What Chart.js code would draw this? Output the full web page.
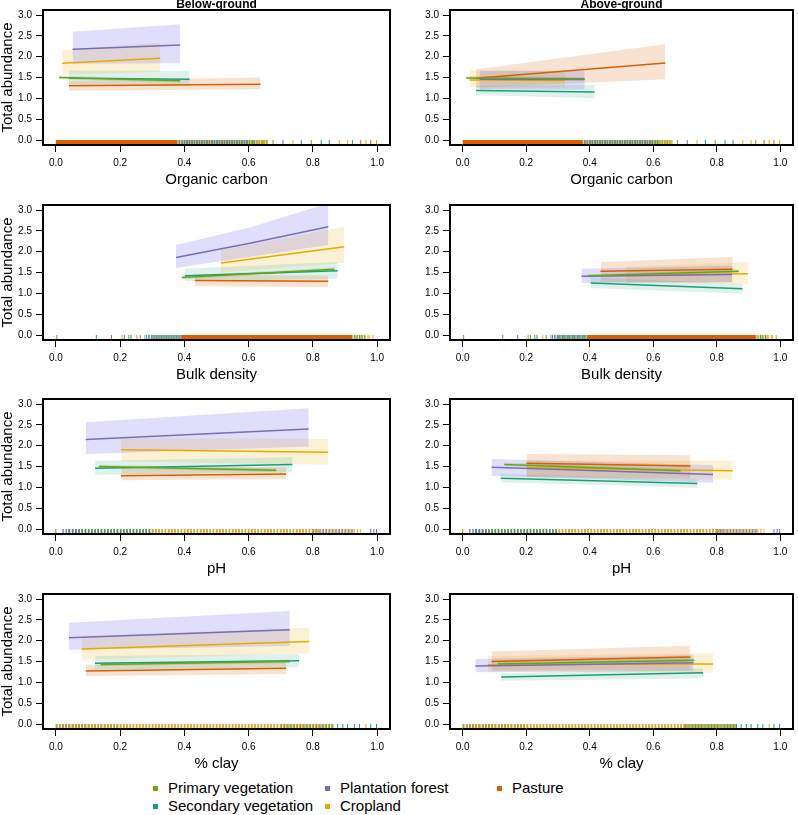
<!DOCTYPE html>
<html>
<head>
<meta charset="utf-8">
<script src="https://cdn.jsdelivr.net/npm/chart.js@4.4.1/dist/chart.umd.min.js"></script>
<style>
  body { margin: 0; background: #fff; }
  #wrap { position: relative; width: 798px; height: 815px; font-family: "Liberation Sans", Arial, Helvetica, sans-serif; }
  canvas { position: absolute; }
  .key { position: absolute; font-size: 15px; line-height: 18px; color: #000; white-space: nowrap; }
  .sw { position: absolute; width: 5px; height: 5px; }
</style>
</head>
<body>
<div id="wrap">
  <canvas id="p1" width="399" height="195" style="left:0;top:0"></canvas>
  <canvas id="p2" width="399" height="195" style="left:399px;top:0"></canvas>
  <canvas id="p3" width="399" height="195" style="left:0;top:195px"></canvas>
  <canvas id="p4" width="399" height="195" style="left:399px;top:195px"></canvas>
  <canvas id="p5" width="399" height="195" style="left:0;top:389px"></canvas>
  <canvas id="p6" width="399" height="195" style="left:399px;top:389px"></canvas>
  <canvas id="p7" width="399" height="195" style="left:0;top:584px"></canvas>
  <canvas id="p8" width="399" height="195" style="left:399px;top:584px"></canvas>
  <div id="legend"></div>
</div>
<script>
var landUses = ['Primary vegetation', 'Secondary vegetation', 'Plantation forest', 'Cropland', 'Pasture'];
var lineColors = ['#66A61E', '#1B9E77', '#7570B3', '#E6AB02', '#D95F02'];
var bandColors = ['rgba(102,166,30,0.22)', 'rgba(27,158,119,0.14)', 'rgba(100,90,230,0.2)', 'rgba(230,171,2,0.17)', 'rgba(217,95,2,0.18)'];
var rugColors = ['rgba(102,166,30,0.85)', 'rgba(27,158,119,0.85)', 'rgba(117,112,179,0.85)', 'rgba(230,171,2,0.75)', 'rgba(217,95,2,0.7)'];

var yTicks = [0, 0.5, 1, 1.5, 2, 2.5, 3];
var yTickLabels = ['0.0', '0.5', '1.0', '1.5', '2.0', '2.5', '3.0'];
var xTicks = [0, 0.2, 0.4, 0.6, 0.8, 1];
var xTickLabels = ['0.0', '0.2', '0.4', '0.6', '0.8', '1.0'];

// each land use: [x, fitted, lower, upper], same order as landUses
var belowOC = [
  [[0.010, 0.387], [1.50, 1.42], [1.46, 1.38], [1.54, 1.46]],
  [[0.041, 0.416], [1.48, 1.46], [1.31, 1.29], [1.66, 1.66]],
  [[0.052, 0.387], [2.18, 2.28], [1.83, 1.84], [2.60, 2.78]],
  [[0.020, 0.325], [1.84, 1.96], [1.56, 1.64], [2.16, 2.34]],
  [[0.041, 0.637], [1.30, 1.34], [1.18, 1.22], [1.42, 1.50]]
];
var aboveOC = [
  [[0.011, 0.384], [1.49, 1.47], [1.45, 1.43], [1.53, 1.51]],
  [[0.042, 0.415], [1.19, 1.15], [1.08, 1.00], [1.30, 1.32]],
  [[0.053, 0.384], [1.46, 1.45], [1.21, 1.21], [1.66, 1.66]],
  [[0.022, 0.322], [1.44, 1.43], [1.26, 1.26], [1.66, 1.66]],
  [[0.042, 0.638], [1.48, 1.85], [1.26, 1.46], [1.70, 2.30]]
];
var belowBD = [
  [[0.392, 0.867], [1.38, 1.58], [1.34, 1.54], [1.42, 1.62]],
  [[0.402, 0.877], [1.42, 1.54], [1.29, 1.35], [1.59, 1.75]],
  [[0.374, 0.604, 0.848], [1.86, 2.20, 2.60], [1.61, 1.88, 2.16], [2.16, 2.58, 3.16]],
  [[0.514, 0.898], [1.73, 2.12], [1.50, 1.73], [2.04, 2.60]],
  [[0.433, 0.848], [1.31, 1.29], [1.17, 1.15], [1.44, 1.43]]
];
var aboveBD = [
  [[0.394, 0.869], [1.42, 1.53], [1.38, 1.49], [1.46, 1.57]],
  [[0.403, 0.881], [1.25, 1.11], [1.13, 0.99], [1.38, 1.23]],
  [[0.374, 0.848], [1.41, 1.45], [1.25, 1.27], [1.59, 1.66]],
  [[0.514, 0.898], [1.43, 1.47], [1.26, 1.23], [1.63, 1.75]],
  [[0.434, 0.850], [1.53, 1.58], [1.28, 1.26], [1.75, 1.87]]
];
var belowPH = [
  [[0.134, 0.686], [1.50, 1.41], [1.46, 1.37], [1.54, 1.45]],
  [[0.122, 0.736], [1.46, 1.55], [1.30, 1.36], [1.64, 1.72]],
  [[0.093, 0.787], [2.15, 2.40], [1.80, 1.98], [2.56, 2.90]],
  [[0.203, 0.848], [1.90, 1.84], [1.62, 1.54], [2.18, 2.16]],
  [[0.203, 0.717], [1.28, 1.32], [1.17, 1.20], [1.46, 1.48]]
];
var abovePH = [
  [[0.131, 0.686], [1.55, 1.40], [1.51, 1.36], [1.59, 1.44]],
  [[0.120, 0.739], [1.22, 1.09], [1.12, 0.99], [1.32, 1.20]],
  [[0.091, 0.788], [1.48, 1.31], [1.28, 1.11], [1.68, 1.53]],
  [[0.201, 0.850], [1.47, 1.40], [1.25, 1.18], [1.64, 1.64]],
  [[0.201, 0.717], [1.58, 1.51], [1.26, 1.22], [1.80, 1.77]]
];
var belowClay = [
  [[0.139, 0.728], [1.43, 1.50], [1.39, 1.46], [1.47, 1.54]],
  [[0.122, 0.757], [1.46, 1.52], [1.30, 1.36], [1.63, 1.68]],
  [[0.041, 0.728], [2.07, 2.26], [1.78, 1.87], [2.43, 2.71]],
  [[0.080, 0.789], [1.80, 1.98], [1.54, 1.70], [2.11, 2.31]],
  [[0.093, 0.717], [1.27, 1.34], [1.15, 1.20], [1.42, 1.50]]
];
var aboveClay = [
  [[0.110, 0.729], [1.44, 1.53], [1.40, 1.49], [1.48, 1.57]],
  [[0.121, 0.757], [1.13, 1.23], [1.04, 1.10], [1.22, 1.34]],
  [[0.040, 0.727], [1.39, 1.47], [1.24, 1.28], [1.56, 1.65]],
  [[0.079, 0.788], [1.42, 1.44], [1.26, 1.23], [1.63, 1.70]],
  [[0.091, 0.717], [1.50, 1.61], [1.28, 1.31], [1.74, 1.88]]
];

// rug of observed x values: solid runs, dense runs [land use, from, to], single ticks [land use, x]
var ocRugSolid = [[4, 0.0, 0.378]];
var ocRugDense = [[2, 0.378, 0.60], [1, 0.378, 0.62], [3, 0.378, 0.66], [0, 0.40, 0.66], [4, 0.38, 0.66]];
var ocRugTicks = [[1, 0.614], [3, 0.645], [0, 0.676], [2, 0.707], [3, 0.738], [1, 0.764], [0, 0.795], [1, 0.826],
  [1, 0.851], [3, 0.882], [3, 0.908], [0, 0.923], [4, 0.949], [3, 0.965], [4, 0.980], [3, 0.998]];
var bdRugSolid = [[4, 0.392, 0.922]];
var bdRugDense = [[2, 0.275, 0.392], [1, 0.275, 0.392], [0, 0.30, 0.39], [3, 0.92, 0.975], [0, 0.92, 0.965], [1, 0.93, 0.96]];
var bdRugTicks = [[0, 0.003], [1, 0.126], [2, 0.173], [3, 0.206], [1, 0.213], [0, 0.227], [1, 0.234], [3, 0.252],
  [0, 0.263], [3, 0.975], [3, 0.987]];
var phRugSolid = [];
var phRugDense = [[2, 0.02, 0.08], [1, 0.04, 0.30], [3, 0.05, 0.95], [4, 0.06, 0.82], [2, 0.80, 0.93]];
var phRugTicks = [[0, 0.0], [1, 0.041], [2, 0.98], [2, 0.99], [2, 0.998]];
var clayRugSolid = [];
var clayRugDense = [[3, 0.0, 0.86], [4, 0.02, 0.86], [1, 0.0, 0.20], [2, 0.0, 0.10], [1, 0.70, 0.86]];
var clayRugTicks = [[1, 0.862], [1, 0.877], [1, 0.893], [1, 0.908], [1, 0.929], [1, 0.945], [3, 0.965], [1, 0.98], [1, 0.998]];

var FONT = '"Liberation Sans", Arial, Helvetica, sans-serif';
var RUG_Y = -0.06;
Chart.defaults.font.family = FONT;
Chart.defaults.color = '#000';

var plotBox = {
  id: 'plotBox',
  afterDatasetsDraw: function (chart) {
    var a = chart.chartArea, ctx = chart.ctx;
    ctx.save();
    ctx.strokeStyle = '#000';
    ctx.lineWidth = 2;
    ctx.strokeRect(a.left, a.top, a.right - a.left, a.bottom - a.top);
    ctx.restore();
  }
};

function pts(xs, ys) {
  return xs.map(function (x, i) { return { x: x, y: ys[i] }; });
}

function rugDatasets(solid, dense, ticks, dash, shift) {
  var ds = [];
  solid.forEach(function (r) {
    ds.push({ data: [{ x: r[1], y: RUG_Y }, { x: r[2], y: RUG_Y }], borderColor: lineColors[r[0]],
      borderWidth: 5, borderCapStyle: 'butt', pointRadius: 0, fill: false, order: 3 });
  });
  dense.forEach(function (r) {
    ds.push({ data: [{ x: r[1], y: RUG_Y }, { x: r[2], y: RUG_Y }], borderColor: rugColors[r[0]],
      borderWidth: 5, borderCapStyle: 'butt', borderDash: dash, borderDashOffset: r[0] * shift,
      pointRadius: 0, fill: false, order: 3 });
  });
  ds.push({ data: ticks.map(function (t) { return { x: t[1], y: RUG_Y }; }), showLine: false,
    pointStyle: 'line', pointRotation: 90, pointRadius: 2.5, pointBorderWidth: 1,
    pointBorderColor: ticks.map(function (t) { return lineColors[t[0]]; }), order: 3 });
  return ds;
}

function makePanel(id, series, rug, xTitle, col, title) {
  var datasets = rugDatasets(rug[0], rug[1], rug[2], rug[3], rug[4]);
  series.forEach(function (s, i) {
    datasets.push({ data: pts(s[0], s[3]), borderColor: 'rgba(0,0,0,0)', borderWidth: 0, pointRadius: 0,
      fill: '+1', backgroundColor: bandColors[i], order: 1, clip: 0 });
    datasets.push({ data: pts(s[0], s[2]), borderColor: 'rgba(0,0,0,0)', borderWidth: 0, pointRadius: 0,
      fill: false, order: 1, clip: 0 });
    datasets.push({ data: pts(s[0], s[1]), borderColor: lineColors[i], borderWidth: 1.5, pointRadius: 0,
      fill: false, order: 0, clip: 0 });
  });

  new Chart(document.getElementById(id), {
    type: 'line',
    data: { datasets: datasets },
    plugins: [plotBox],
    options: {
      responsive: false,
      animation: false,
      events: [],
      layout: { padding: { top: title ? 0 : 10, right: col === 0 ? 9 : 1, left: 0, bottom: 0 } },
      plugins: {
        legend: { display: false },
        tooltip: { enabled: false },
        title: {
          display: !!title, text: title, fullSize: false, padding: 0, color: '#000',
          font: { size: 12, weight: 'bold', lineHeight: 10 / 12 }
        }
      },
      scales: {
        x: {
          type: 'linear', min: -0.04, max: 1.04,
          afterBuildTicks: function (axis) { axis.ticks = xTicks.map(function (v) { return { value: v }; }); },
          afterFit: function (axis) { axis.height = 50; },
          ticks: { font: { size: 10 }, padding: 5, maxRotation: 0, autoSkip: false,
            callback: function (v, i) { return xTickLabels[i]; } },
          grid: { drawOnChartArea: false, drawTicks: true, tickLength: 7, color: '#000', lineWidth: 1 },
          border: { display: false },
          title: { display: true, text: xTitle, font: { size: 15 }, padding: { top: 0, bottom: 6 } }
        },
        y: {
          min: -0.12, max: 3.12,
          afterBuildTicks: function (axis) { axis.ticks = yTicks.map(function (v) { return { value: v }; }); },
          afterFit: function (axis) { axis.width = col === 0 ? 43 : 51; },
          ticks: { font: { size: 10 }, padding: 4, autoSkip: false,
            callback: function (v, i) { return yTickLabels[i]; } },
          grid: { drawOnChartArea: false, drawTicks: true, tickLength: 7, color: '#000', lineWidth: 1 },
          border: { display: false },
          title: { display: col === 0, text: 'Total abundance', font: { size: 15, lineHeight: 1 }, padding: 0 }
        }
      }
    }
  });
}

var ocRug = [ocRugSolid, ocRugDense, ocRugTicks, [1, 1.5], 0.5];
var bdRug = [bdRugSolid, bdRugDense, bdRugTicks, [1, 1.5], 0.5];
var phRug = [phRugSolid, phRugDense, phRugTicks, [1.5, 1.7], 0];
var clayRug = [clayRugSolid, clayRugDense, clayRugTicks, [1.5, 1.7], 0];

makePanel('p1', belowOC, ocRug, 'Organic carbon', 0, 'Below-ground');
makePanel('p2', aboveOC, ocRug, 'Organic carbon', 1, 'Above-ground');
makePanel('p3', belowBD, bdRug, 'Bulk density', 0, '');
makePanel('p4', aboveBD, bdRug, 'Bulk density', 1, '');
makePanel('p5', belowPH, phRug, 'pH', 0, '');
makePanel('p6', abovePH, phRug, 'pH', 1, '');
makePanel('p7', belowClay, clayRug, '% clay', 0, '');
makePanel('p8', aboveClay, clayRug, '% clay', 1, '');

// legend, filled column by column
var keyX = [168, 340, 512];
var keyY = [779, 797];
var legend = document.getElementById('legend');
landUses.forEach(function (name, i) {
  var c = Math.floor(i / 2), r = i % 2;
  var sw = document.createElement('div');
  sw.className = 'sw';
  sw.style.left = (keyX[c] - 15) + 'px';
  sw.style.top = (keyY[r] + 7) + 'px';
  sw.style.background = lineColors[i];
  legend.appendChild(sw);
  var t = document.createElement('div');
  t.className = 'key';
  t.style.left = keyX[c] + 'px';
  t.style.top = keyY[r] + 'px';
  t.textContent = name;
  legend.appendChild(t);
});
</script>
</body>
</html>
